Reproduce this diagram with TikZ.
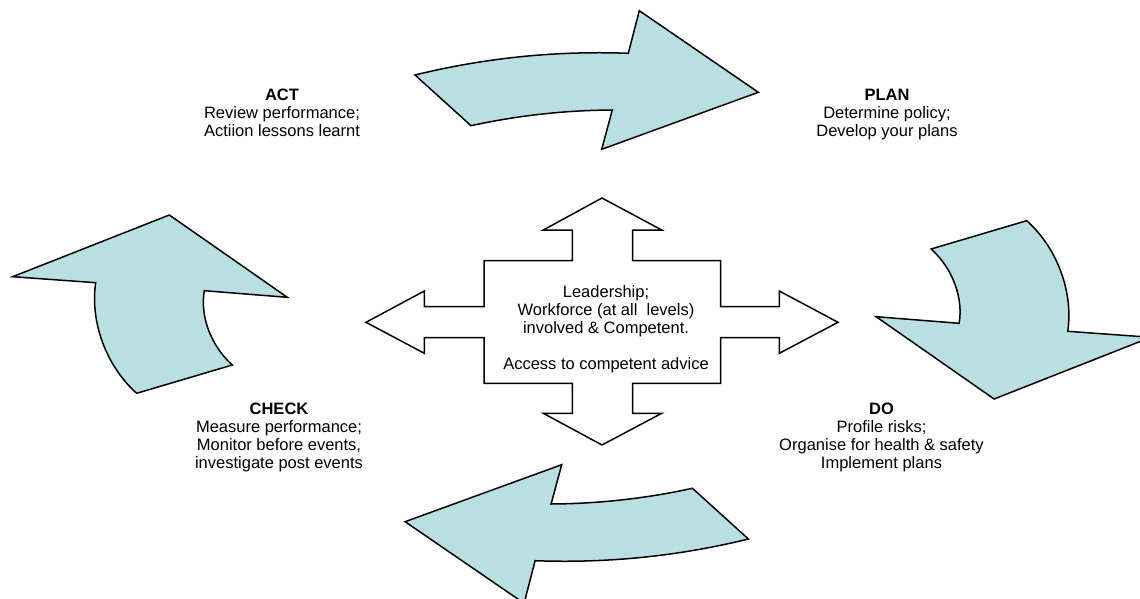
\documentclass[tikz,border=0pt]{standalone}
\usepackage{fontspec}
\setmainfont{Liberation Sans}
\usepackage{tikz}
\definecolor{aqua}{HTML}{B9DFE3}
\definecolor{ink}{HTML}{000000}
% outline of the curved arrow (top one), the bottom one is the same turned round
\newcommand{\bentarrow}{(415,75) .. controls (485.1,57.8) and (556.2,50.6) .. (628.3,53.3)
  -- (639.3,10.7) -- (758.3,92.3) -- (601.7,149.3) -- (612.3,110)
  .. controls (564.7,110.3) and (517.6,115.5) .. (471,125.7) -- cycle}
% outline of the left arrow, the right one is the same turned round
\newcommand{\sidearrow}{(136.7,393.3) .. controls (105,365) and (90,320) .. (95.7,282.7)
  -- (12.7,276.7) -- (169.3,215) -- (287.3,297.3) -- (204.3,290.7)
  .. controls (200,315) and (210,345) .. (232.3,365) -- cycle}

\begin{document}
\begin{tikzpicture}[x=1pt,y=-1pt,
  pdca/.style={draw=ink,fill=aqua,line width=1.5pt},
  cross/.style={draw=ink,fill=white,line width=1.5pt},
  lab/.style={align=center,inner sep=0pt,anchor=north,font=\fontsize{16.5}{18}\selectfont}]
  \useasboundingbox (0,0) rectangle (1140,599);
  \clip (0,0) rectangle (1140,599);
  % cycle arrows
  \draw[pdca] \bentarrow;
  \draw[pdca] \sidearrow;
  \begin{scope}[rotate around={180:(581.7,307)}]
    \draw[pdca] \bentarrow;
    \draw[pdca] \sidearrow;
  \end{scope}
  % four-way arrow in the middle
  \draw[cross] (602,198) -- (661.7,230) -- (632.7,230) -- (632.7,260.7) -- (720.7,260.7)
    -- (720.7,306.7) -- (779.3,306.7) -- (779.3,291) -- (838,322.3) -- (779.3,353.3)
    -- (779.3,337.7) -- (720.7,337.7) -- (720.7,383.3) -- (632.7,383.3) -- (632.7,413.3)
    -- (661.7,413.3) -- (602,445) -- (543.3,413.3) -- (572.3,413.3) -- (572.3,383.3)
    -- (484,383.3) -- (484,337.7) -- (424.3,337.7) -- (424.3,353.3) -- (366,322.3)
    -- (424.3,291) -- (424.3,306.7) -- (484,306.7) -- (484,260.7) -- (572.3,260.7)
    -- (572.3,230) -- (543.3,230) -- cycle;
  \node[lab] (core) at (606,285) {Leadership;\\ Workforce (at all\ \ levels)\\ involved \& Competent.\\[18pt] Access to competent advice};
  % stage labels
  \node[lab] (act) at (282,89) {\textbf{ACT}\\ Review performance;\\ Actiion lessons learnt};
  \node[lab] (plan) at (887,89) {\textbf{PLAN}\\ Determine policy;\\ Develop your plans};
  \node[lab] (check) at (279,403) {\textbf{CHECK}\\ Measure performance;\\ Monitor before events,\\ investigate post events};
  \node[lab] (do) at (881.5,403) {\textbf{DO}\\ Profile risks;\\ Organise for health \& safety\\ Implement plans};
\end{tikzpicture}
\end{document}
